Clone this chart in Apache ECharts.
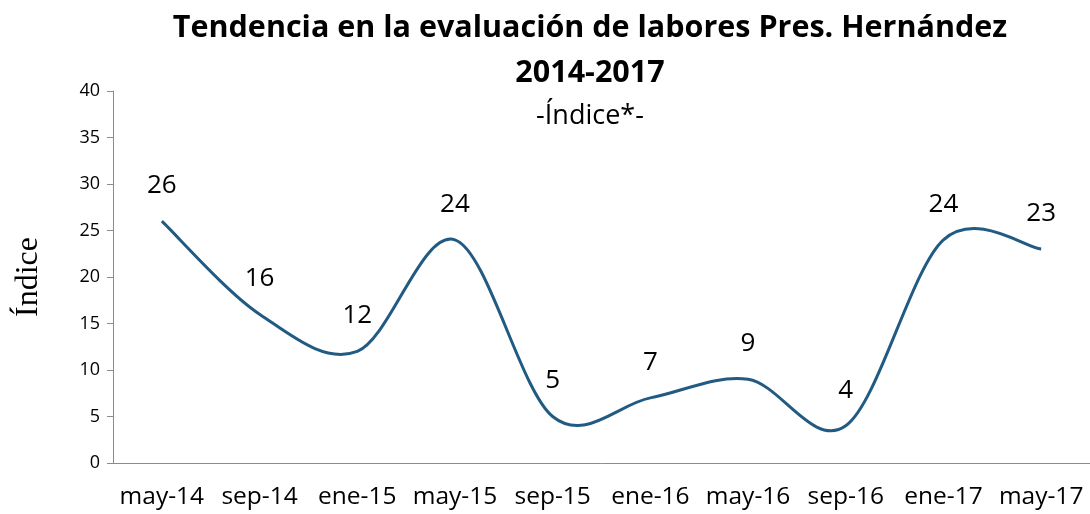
<!DOCTYPE html>
<html>
<head>
<meta charset="utf-8">
<script src="https://cdn.jsdelivr.net/npm/echarts@6/dist/echarts.min.js"></script>
<style>
  html, body { margin: 0; padding: 0; background: #fff; }
</style>
</head>
<body>
<div id="chart" style="width:1090px;height:514px;"></div>
<script>
// periodos de la encuesta
const periodos = ['may-14', 'sep-14', 'ene-15', 'may-15', 'sep-15', 'ene-16', 'may-16', 'sep-16', 'ene-17', 'may-17'];
// índice de evaluación
const indice = [26, 16, 12, 24, 5, 7, 9, 4, 24, 23];
const ejeY = { min: 0, max: 40, interval: 5 };

const chart = echarts.init(document.getElementById('chart'));

// curva suavizada tipo Excel (Catmull-Rom) que pasa por cada punto
function dibujarCurva(params, api) {
  if (params.dataIndex !== 0) return;
  const pts = indice.map((v, i) => api.coord([i, v]));
  let d = 'M' + pts[0][0] + ',' + pts[0][1];
  for (let i = 0; i < pts.length - 1; i++) {
    const p0 = pts[i - 1] || pts[i];
    const p1 = pts[i];
    const p2 = pts[i + 1];
    const p3 = pts[i + 2] || pts[i + 1];
    const c1 = [p1[0] + (p2[0] - p0[0]) / 6, p1[1] + (p2[1] - p0[1]) / 6];
    const c2 = [p2[0] - (p3[0] - p1[0]) / 6, p2[1] - (p3[1] - p1[1]) / 6];
    d += ' C' + c1.join(',') + ' ' + c2.join(',') + ' ' + p2.join(',');
  }
  return {
    type: 'path',
    shape: { pathData: d },
    style: { stroke: '#215a82', fill: 'none', lineWidth: 3 }
  };
}

const option = {
  animation: false,
  textStyle: { fontFamily: 'Open Sans' },
  title: [
    {
      text: 'Tendencia en la evaluación de labores Pres. Hernández\n2014-2017',
      left: 585,
      top: 1,
      textAlign: 'center',
      textStyle: { fontSize: 30.5, fontWeight: 'bold', color: '#000', lineHeight: 45, fontFamily: 'Open Sans' }
    },
    {
      text: '-Índice*-',
      left: 585,
      top: 98,
      textAlign: 'center',
      textStyle: { fontSize: 27, fontWeight: 'normal', color: '#000', fontFamily: 'Open Sans' }
    }
  ],
  grid: { left: 113, right: 0, top: 91, bottom: 51, outerBoundsMode: 'none' },
  xAxis: {
    type: 'category',
    data: periodos,
    boundaryGap: true,
    axisLine: { lineStyle: { color: '#8c8c8c', width: 1 } },
    axisTick: { show: false },
    axisLabel: { color: '#000', fontSize: 24.5, margin: 22, interval: 0 }
  },
  yAxis: {
    type: 'value',
    min: ejeY.min,
    max: ejeY.max,
    interval: ejeY.interval,
    name: 'Índice',
    nameLocation: 'middle',
    nameGap: 68,
    nameRotate: 90,
    nameTextStyle: { fontFamily: 'Liberation Serif', fontSize: 32, color: '#000' },
    axisLine: { show: true, lineStyle: { color: '#8c8c8c', width: 1 } },
    axisTick: { show: true, inside: false, length: 6, lineStyle: { color: '#8c8c8c' } },
    splitLine: { show: false },
    axisLabel: { color: '#000', fontSize: 18, margin: 13 }
  },
  series: [
    {
      type: 'custom',
      data: indice.map((v, i) => [i, v]),
      encode: { x: 0, y: 1 },
      renderItem: dibujarCurva,
      silent: true
    },
    {
      type: 'scatter',
      data: indice,
      symbolSize: 1,
      itemStyle: { color: 'rgba(0,0,0,0)', opacity: 1 },
      label: {
        show: true,
        position: 'top',
        distance: 22,
        fontSize: 26,
        color: '#000',
        fontFamily: 'Open Sans'
      }
    }
  ]
};

chart.setOption(option);
</script>
</body>
</html>
